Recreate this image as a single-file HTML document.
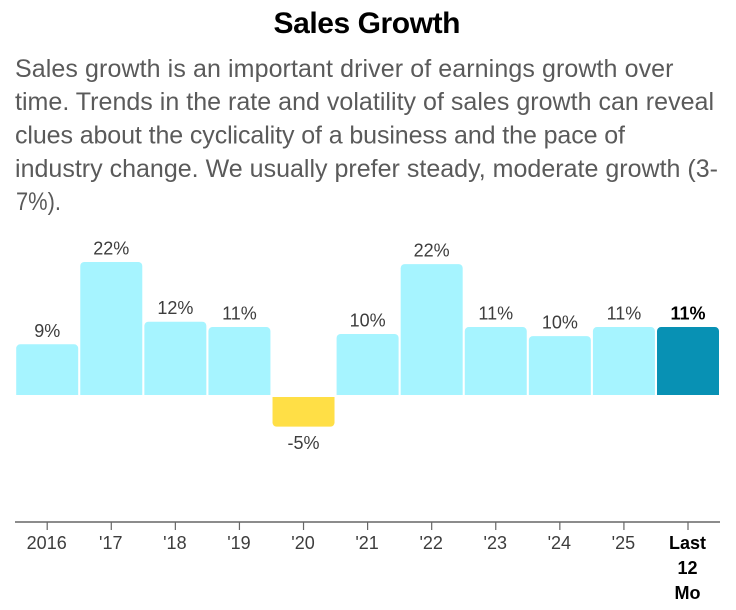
<!DOCTYPE html>
<html lang="en">
<head>
<meta charset="utf-8">
<title>Sales Growth</title>
<style>
html,body{margin:0;padding:0;background:#fff;width:736px;height:610px;overflow:hidden}
svg{display:block;font-family:"Liberation Sans",Arial,sans-serif}
.intro{font-size:25px;fill:#5a5a5a}
.val{font-size:18px;fill:#3d3d3d;text-anchor:middle}
.tick{font-size:18px;fill:#3d3d3d;text-anchor:middle}
.hl{font-weight:bold;fill:#000}
</style>
</head>
<body>
<svg id="chart" width="736" height="610" viewBox="0 0 736 610" xmlns="http://www.w3.org/2000/svg">
  <text x="273.5" y="33" font-size="30" font-weight="bold" fill="#000" textLength="187" lengthAdjust="spacing">Sales Growth</text>
  <g>
    <text class="intro" x="15" y="77" textLength="658.5" lengthAdjust="spacing">Sales growth is an important driver of earnings growth over</text>
    <text class="intro" x="15" y="110" textLength="699" lengthAdjust="spacing">time. Trends in the rate and volatility of sales growth can reveal</text>
    <text class="intro" x="15" y="143.5" textLength="610" lengthAdjust="spacing">clues about the cyclicality of a business and the pace of</text>
    <text class="intro" x="15" y="177" textLength="703" lengthAdjust="spacing">industry change. We usually prefer steady, moderate growth (3-</text>
    <text class="intro" x="16" y="210" textLength="45" lengthAdjust="spacingAndGlyphs">7%).</text>
  </g>
  <g id="bars"></g>
  <g id="labels"></g>
  <line x1="15" x2="720" y1="522" y2="522" stroke="#666" stroke-width="1.5"></line>
  <g id="ticks"></g>
</svg>
<script>
const categories = ["2016", "'17", "'18", "'19", "'20", "'21", "'22", "'23", "'24", "'25", "Last 12 Mo"];
const salesGrowth = [8.55, 22.15, 12.28, 11.4, -5.07, 10.25, 21.8, 11.4, 9.9, 11.4, 11.4];
const highlightedCategory = "Last 12 Mo";

const NS = 'http://www.w3.org/2000/svg';
const firstCenter = 47.2, lastCenter = 688, barWidth = 62, zeroY = 396, pxPerPercent = 6.05, radius = 4;
const step = (lastCenter - firstCenter) / (categories.length - 1);
function xScale(i) { return firstCenter + i * step; }
function yScale(v) { return zeroY - v * pxPerPercent; }
function make(tag, attrs) {
  const el = document.createElementNS(NS, tag);
  for (const k in attrs) el.setAttribute(k, attrs[k]);
  return el;
}
function barPath(x, w, yFlat, yRound, r) {
  const s = yRound < yFlat ? 1 : -1;
  const sweep = s > 0 ? 1 : 0;
  return 'M' + x + ' ' + yFlat + 'V' + (yRound + s * r) +
    'A' + r + ' ' + r + ' 0 0 ' + sweep + ' ' + (x + r) + ' ' + yRound +
    'H' + (x + w - r) +
    'A' + r + ' ' + r + ' 0 0 ' + sweep + ' ' + (x + w) + ' ' + (yRound + s * r) +
    'V' + yFlat + 'Z';
}
const barsG = document.getElementById('bars');
const labelsG = document.getElementById('labels');
const ticksG = document.getElementById('ticks');
categories.forEach(function (cat, i) {
  const v = salesGrowth[i];
  const cx = xScale(i);
  const hl = cat === highlightedCategory;
  const neg = v < 0;
  const yEnd = yScale(v);
  const yBase = neg ? zeroY + 1 : zeroY - 1;
  const bar = make('path', {
    d: barPath(cx - barWidth / 2, barWidth, yBase, yEnd, radius),
    fill: hl ? '#0891b4' : (neg ? '#ffdf46' : '#a6f4ff')
  });
  
  
  barsG.appendChild(bar);

  const label = make('text', {
    x: cx,
    y: neg ? yEnd + 22.5 : yEnd - 7.5,
    class: hl ? 'val hl' : 'val'
  });
  
  
  label.textContent = Math.round(v) + '%';
  labelsG.appendChild(label);

  const tick = make('line', { x1: cx, x2: cx, y1: 522, y2: 530, stroke: '#666', 'stroke-width': 1.2 });
  
  
  ticksG.appendChild(tick);

  const words = hl ? cat.split(' ') : [cat];
  words.forEach(function (word, w) {
    const t = make('text', { x: cx - 0.5, y: 549 + w * 25, class: hl ? 'tick hl' : 'tick' });
    
    
    t.textContent = word;
    ticksG.appendChild(t);
  });
});
</script>
</body>
</html>
